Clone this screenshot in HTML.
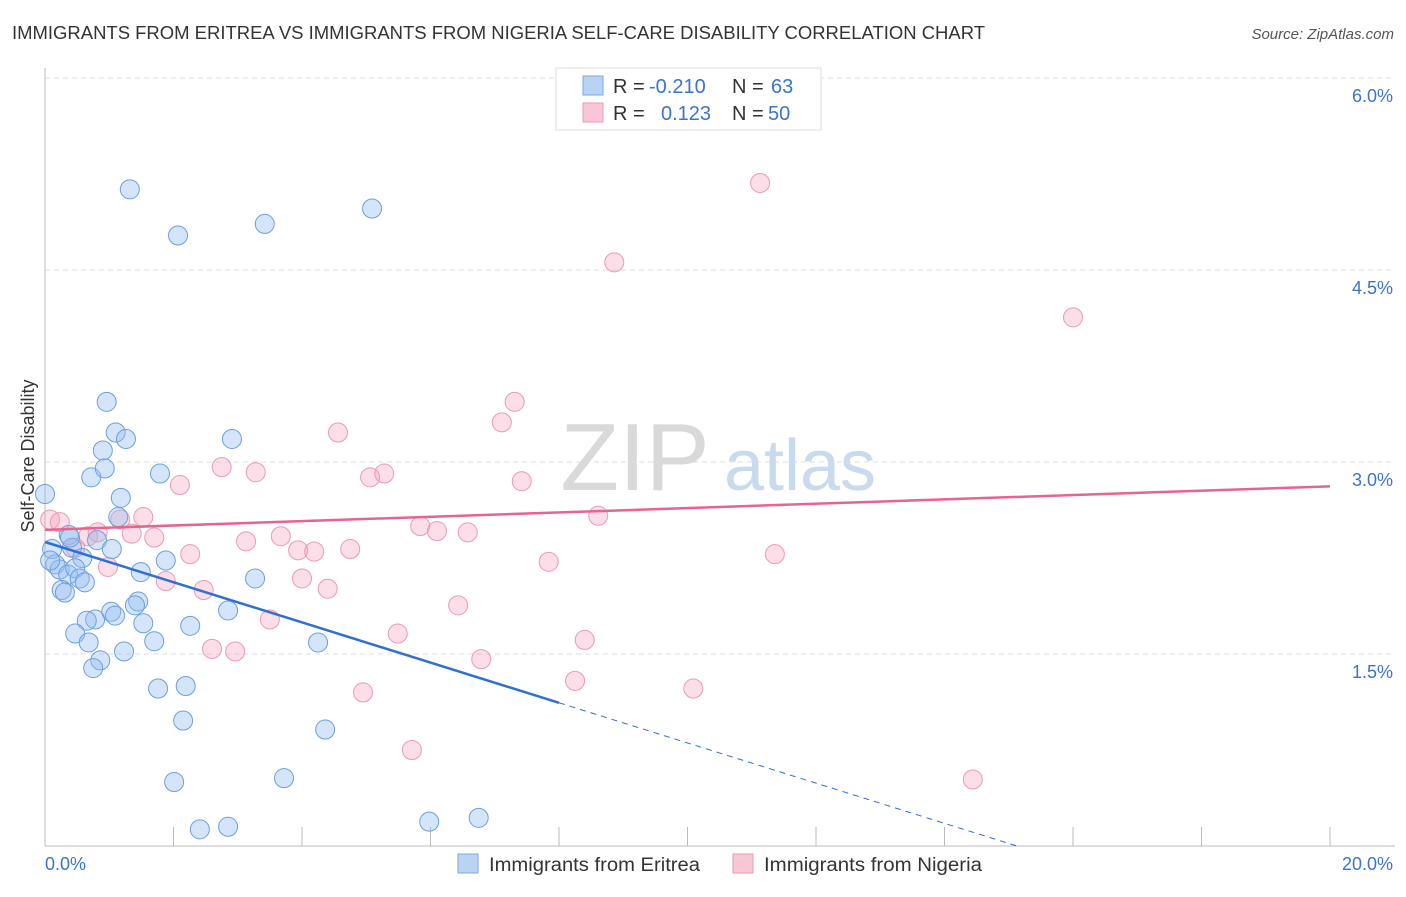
<!DOCTYPE html>
<html><head><meta charset="utf-8"><style>
body{margin:0;background:#fff;font-family:"Liberation Sans",sans-serif}
svg text{font-family:"Liberation Sans",sans-serif}
</style></head><body>
<svg id="chart" width="1406" height="892" xmlns="http://www.w3.org/2000/svg">
<text x="12" y="39" font-size="18" fill="#333" textLength="973" lengthAdjust="spacingAndGlyphs">IMMIGRANTS FROM ERITREA VS IMMIGRANTS FROM NIGERIA SELF-CARE DISABILITY CORRELATION CHART</text>
<text x="1394" y="39" font-size="15" fill="#555" text-anchor="end" font-style="italic">Source: ZipAtlas.com</text>
<g>
<text x="635" y="490" font-size="96" fill="#d9d9d9" text-anchor="middle" font-family="Liberation Serif, serif">ZIP</text>
<text x="800" y="490" font-size="72" fill="#c7daf0" text-anchor="middle">atlas</text>
</g>
<g id="grid"></g>
<g id="axes"></g>
<g id="marks"></g>
<text transform="translate(34,456) rotate(-90)" font-size="18" fill="#333" text-anchor="middle">Self-Care Disability</text>
<g>
<rect x="556" y="68" width="265" height="62" fill="#fff" stroke="#ddd"/>
<rect x="583" y="76" width="20" height="19" fill="#b9d3f5" stroke="#7aa7e3"/>
<rect x="583" y="103" width="20" height="19" fill="#f9c6d5" stroke="#eb9ab3"/>
<text x="613" y="93" font-size="20" fill="#333">R = </text><text x="649" y="93" font-size="20" fill="#3a74cf">-0.210</text>
<text x="732" y="93" font-size="20" fill="#333">N = </text><text x="771" y="93" font-size="20" fill="#3a74cf">63</text>
<text x="613" y="120" font-size="20" fill="#333">R = </text><text x="661" y="120" font-size="20" fill="#3a74cf">0.123</text>
<text x="732" y="120" font-size="20" fill="#333">N = </text><text x="768" y="120" font-size="20" fill="#3a74cf">50</text>
</g>
<g>
<rect x="458" y="854" width="20" height="19" fill="#b9d3f5" stroke="#7aa7e3"/>
<text x="489" y="871" font-size="19" fill="#333" textLength="211" lengthAdjust="spacingAndGlyphs">Immigrants from Eritrea</text>
<rect x="733" y="854" width="20" height="19" fill="#f9c6d5" stroke="#eb9ab3"/>
<text x="764" y="871" font-size="19" fill="#333" textLength="218" lengthAdjust="spacingAndGlyphs">Immigrants from Nigeria</text>
</g>
</svg>
<script>
const eritreaX=[1.32,2.07,3.42,5.09,0.96,1.10,1.26,0.90,2.91,1.79,0.72,0.93,1.18,0,1.14,0.37,0.81,1.04,0.42,0.11,0.58,0.16,0.23,0.36,0.47,0.54,0.62,1.49,1.88,3.27,0.26,0.31,1.45,1.40,1.03,1.09,0.78,0.65,1.53,0.47,2.26,2.85,0.68,1.70,4.25,1.23,0.86,0.75,1.76,2.19,2.15,4.36,2.01,3.72,2.41,2.85,5.98,6.75,0.08,0.39];
const eritreaY=[5.13,4.77,4.86,4.98,3.47,3.23,3.18,3.09,3.18,2.91,2.88,2.95,2.72,2.75,2.57,2.43,2.39,2.32,2.33,2.32,2.25,2.20,2.16,2.12,2.17,2.09,2.06,2.14,2.23,2.09,2.00,1.98,1.91,1.88,1.83,1.80,1.77,1.76,1.74,1.66,1.72,1.84,1.59,1.60,1.59,1.52,1.45,1.39,1.23,1.25,0.98,0.91,0.50,0.53,0.13,0.15,0.19,0.22,2.23,2.41];
const nigeriaX=[11.13,8.86,16.00,7.31,7.11,4.56,2.75,3.28,5.28,5.06,2.10,7.42,0.08,0.23,1.17,1.53,0.82,1.35,1.70,0.67,3.13,3.67,5.84,6.10,6.58,8.61,2.26,3.94,4.19,4.75,0.98,11.36,7.84,1.88,4.00,2.47,4.40,6.43,3.50,5.49,8.40,2.60,2.96,6.79,8.25,10.09,4.95,5.71,14.44,0.47];
const nigeriaY=[5.18,4.56,4.13,3.47,3.31,3.23,2.96,2.92,2.91,2.88,2.82,2.85,2.55,2.53,2.55,2.57,2.45,2.44,2.41,2.42,2.38,2.42,2.50,2.46,2.45,2.58,2.28,2.31,2.30,2.32,2.18,2.28,2.22,2.07,2.09,2.00,2.01,1.88,1.77,1.66,1.61,1.54,1.52,1.46,1.29,1.23,1.20,0.75,0.52,2.33];
const yTicks=[1.5,3.0,4.5,6.0];
const yTickLabels=["1.5%","3.0%","4.5%","6.0%"];
const xTicks=[0,2,4,6,8,10,12,14,16,18,20];
const eritreaTrend=[2.375,-0.157];
const nigeriaTrend=[2.47,0.017];
const NS="http://www.w3.org/2000/svg";
const sx=v=>45+v*1285/20;
const sy=v=>846-v*128;
function mk(tag,attrs,parent){const e=document.createElementNS(NS,tag);for(const k in attrs)e.setAttribute(k,attrs[k]);parent.appendChild(e);return e;}
const grid=document.getElementById('grid'),axes=document.getElementById('axes'),marks=document.getElementById('marks');
yTicks.forEach((t,i)=>{
 const l=mk('line',{x1:45,x2:1395,y1:sy(t),y2:sy(t),stroke:'#ddd','stroke-dasharray':'5,4'},grid);
 
 
 const tx=mk('text',{x:1393,y:sy(t)+24,'font-size':18,fill:'#3a74cf','text-anchor':'end'},grid);
 tx.textContent=yTickLabels[i];
 
 
});
const ya=mk('line',{x1:45,x2:45,y1:68,y2:846,stroke:'#bbb'},axes);


const xa=mk('line',{x1:45,x2:1395,y1:846,y2:846,stroke:'#bbb'},axes);


xTicks.forEach(t=>{
 const l=mk('line',{x1:sx(t),x2:sx(t),y1:827,y2:846,stroke:'#bbb'},axes);
 
 
});
const x0=mk('text',{x:45,y:870,'font-size':18,fill:'#3a74cf'},axes);x0.textContent=xTicks[0].toFixed(1)+'%';


const x1=mk('text',{x:1393,y:870,'font-size':18,fill:'#3a74cf','text-anchor':'end'},axes);x1.textContent=xTicks[xTicks.length-1].toFixed(1)+'%';


nigeriaX.forEach((x,i)=>{
 const c=mk('circle',{cx:sx(x),cy:sy(nigeriaY[i]),r:9.5,fill:'rgba(244,160,185,0.35)',stroke:'#eb9ab3','stroke-width':1},marks);
 
 
});
eritreaX.forEach((x,i)=>{
 const c=mk('circle',{cx:sx(x),cy:sy(eritreaY[i]),r:9.5,fill:'rgba(150,190,240,0.4)',stroke:'#6b9fe0','stroke-width':1},marks);
 
 
});
const bf=x=>eritreaTrend[0]+eritreaTrend[1]*x, pf=x=>nigeriaTrend[0]+nigeriaTrend[1]*x;
const b1=mk('line',{x1:sx(0),y1:sy(bf(0)),x2:sx(8),y2:sy(bf(8)),stroke:'#2f6fd6','stroke-width':2.5},marks);


const xe=-eritreaTrend[0]/eritreaTrend[1];
const b2=mk('line',{x1:sx(8),y1:sy(bf(8)),x2:sx(xe),y2:sy(0),stroke:'#2f6fd6','stroke-width':1,'stroke-dasharray':'6,5'},marks);


const p1=mk('line',{x1:sx(0),y1:sy(pf(0)),x2:sx(20),y2:sy(pf(20)),stroke:'#e8648e','stroke-width':2.5},marks);


</script>
</body></html>
